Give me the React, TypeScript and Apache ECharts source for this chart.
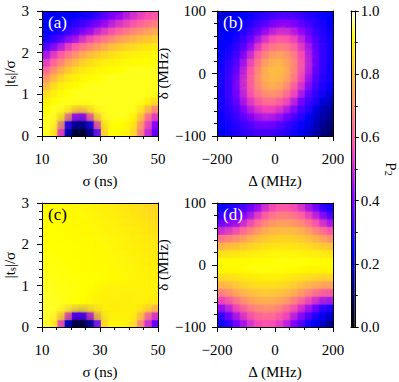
import React, { useEffect, useRef } from "react";
import * as echarts from "echarts";

// Axis ranges
const sigmaRange = [10, 50];
const tsRange = [0, 3];
const detuneRange = [-200, 200];
const deltaRange = [-100, 100];
const colorbarRange = [0, 1];

// Panel (a): rows from |ts|/sigma = 3 (top) to 0 (bottom), columns sigma 10 -> 50
const panelA = [
  [0.24, 0.24, 0.245, 0.25, 0.255, 0.26, 0.27, 0.3, 0.34, 0.38, 0.42, 0.46, 0.5, 0.53, 0.56, 0.58],
  [0.24, 0.25, 0.26, 0.27, 0.29, 0.31, 0.34, 0.38, 0.42, 0.46, 0.5, 0.53, 0.56, 0.59, 0.62, 0.65],
  [0.25, 0.26, 0.28, 0.3, 0.33, 0.37, 0.42, 0.47, 0.51, 0.55, 0.59, 0.63, 0.66, 0.69, 0.72, 0.74],
  [0.27, 0.29, 0.33, 0.38, 0.43, 0.49, 0.54, 0.58, 0.62, 0.66, 0.7, 0.73, 0.75, 0.77, 0.79, 0.81],
  [0.32, 0.38, 0.45, 0.52, 0.57, 0.62, 0.66, 0.7, 0.74, 0.77, 0.8, 0.82, 0.838, 0.852, 0.862, 0.873],
  [0.44, 0.517, 0.576, 0.63, 0.685, 0.732, 0.768, 0.796, 0.824, 0.848, 0.863, 0.876, 0.885, 0.892, 0.898, 0.904],
  [0.524, 0.592, 0.66, 0.724, 0.768, 0.812, 0.842, 0.861, 0.88, 0.89, 0.899, 0.906, 0.912, 0.917, 0.921, 0.925],
  [0.598, 0.678, 0.746, 0.798, 0.842, 0.868, 0.887, 0.897, 0.908, 0.916, 0.921, 0.926, 0.93, 0.93, 0.93, 0.93],
  [0.687, 0.762, 0.822, 0.862, 0.887, 0.902, 0.913, 0.92, 0.927, 0.93, 0.93, 0.93, 0.93, 0.93, 0.93, 0.93],
  [0.768, 0.836, 0.878, 0.898, 0.913, 0.923, 0.93, 0.93, 0.93, 0.93, 0.93, 0.93, 0.93, 0.93, 0.93, 0.93],
  [0.842, 0.884, 0.907, 0.921, 0.93, 0.93, 0.93, 0.93, 0.93, 0.93, 0.93, 0.93, 0.93, 0.93, 0.93, 0.93],
  [0.887, 0.912, 0.927, 0.93, 0.93, 0.93, 0.93, 0.93, 0.93, 0.93, 0.93, 0.93, 0.93, 0.93, 0.915, 0.87],
  [0.913, 0.93, 0.93, 0.925, 0.89, 0.88, 0.905, 0.93, 0.93, 0.93, 0.93, 0.93, 0.93, 0.9, 0.82, 0.71],
  [0.93, 0.93, 0.9, 0.72, 0.48, 0.44, 0.61, 0.85, 0.93, 0.93, 0.93, 0.93, 0.92, 0.83, 0.68, 0.545],
  [0.93, 0.93, 0.74, 0.3, 0.16, 0.14, 0.23, 0.56, 0.89, 0.925, 0.92, 0.915, 0.885, 0.75, 0.575, 0.42],
  [0.93, 0.9, 0.56, 0.18, 0.06, 0.045, 0.115, 0.34, 0.82, 0.92, 0.91, 0.9, 0.865, 0.69, 0.52, 0.37],
];

// Panel (b): rows from delta = 100 (top) to -100, columns Delta -200 -> 200
const panelB = [
  [0.205, 0.222, 0.237, 0.251, 0.266, 0.284, 0.3, 0.321, 0.333, 0.338, 0.333, 0.321, 0.3, 0.284, 0.266, 0.251],
  [0.217, 0.234, 0.25, 0.267, 0.289, 0.315, 0.342, 0.377, 0.404, 0.41, 0.396, 0.362, 0.332, 0.302, 0.279, 0.258],
  [0.229, 0.246, 0.262, 0.287, 0.318, 0.358, 0.417, 0.464, 0.49, 0.493, 0.47, 0.426, 0.371, 0.326, 0.292, 0.267],
  [0.24, 0.256, 0.28, 0.312, 0.358, 0.435, 0.505, 0.553, 0.578, 0.575, 0.543, 0.49, 0.42, 0.346, 0.303, 0.274],
  [0.248, 0.268, 0.297, 0.342, 0.422, 0.51, 0.583, 0.633, 0.655, 0.645, 0.606, 0.541, 0.459, 0.371, 0.315, 0.279],
  [0.256, 0.282, 0.321, 0.39, 0.486, 0.58, 0.662, 0.71, 0.725, 0.71, 0.662, 0.58, 0.486, 0.39, 0.321, 0.282],
  [0.263, 0.296, 0.34, 0.435, 0.538, 0.634, 0.715, 0.76, 0.772, 0.746, 0.691, 0.598, 0.498, 0.394, 0.321, 0.281],
  [0.272, 0.306, 0.365, 0.47, 0.578, 0.68, 0.76, 0.787, 0.789, 0.764, 0.697, 0.597, 0.493, 0.383, 0.319, 0.277],
  [0.277, 0.319, 0.383, 0.493, 0.597, 0.697, 0.764, 0.789, 0.787, 0.76, 0.68, 0.578, 0.47, 0.365, 0.306, 0.272],
  [0.281, 0.321, 0.394, 0.498, 0.598, 0.691, 0.746, 0.772, 0.76, 0.715, 0.634, 0.538, 0.435, 0.34, 0.296, 0.263],
  [0.282, 0.321, 0.39, 0.486, 0.58, 0.662, 0.71, 0.725, 0.71, 0.662, 0.58, 0.486, 0.39, 0.321, 0.282, 0.22],
  [0.279, 0.315, 0.371, 0.459, 0.541, 0.606, 0.645, 0.655, 0.633, 0.583, 0.51, 0.422, 0.342, 0.297, 0.22, 0.19],
  [0.274, 0.303, 0.346, 0.42, 0.49, 0.543, 0.575, 0.578, 0.553, 0.505, 0.435, 0.358, 0.312, 0.23, 0.19, 0.16],
  [0.267, 0.292, 0.326, 0.371, 0.426, 0.47, 0.493, 0.49, 0.464, 0.417, 0.358, 0.318, 0.25, 0.21, 0.17, 0.14],
  [0.258, 0.279, 0.302, 0.332, 0.362, 0.396, 0.41, 0.404, 0.377, 0.342, 0.315, 0.26, 0.23, 0.19, 0.15, 0.12],
  [0.23, 0.266, 0.284, 0.3, 0.321, 0.333, 0.338, 0.333, 0.321, 0.3, 0.27, 0.24, 0.21, 0.17, 0.13, 0.1],
];

// Panel (c): same axes as (a)
const panelC = [
  [0.915, 0.914, 0.912, 0.909, 0.906, 0.903, 0.899, 0.894, 0.889, 0.883, 0.877, 0.87, 0.863, 0.856, 0.848, 0.839],
  [0.917, 0.916, 0.914, 0.911, 0.909, 0.906, 0.902, 0.898, 0.893, 0.888, 0.883, 0.877, 0.871, 0.864, 0.857, 0.849],
  [0.919, 0.918, 0.916, 0.914, 0.911, 0.908, 0.905, 0.901, 0.897, 0.893, 0.888, 0.883, 0.877, 0.871, 0.864, 0.856],
  [0.92, 0.919, 0.917, 0.915, 0.913, 0.911, 0.908, 0.905, 0.901, 0.897, 0.893, 0.888, 0.883, 0.877, 0.871, 0.864],
  [0.922, 0.921, 0.919, 0.917, 0.915, 0.913, 0.91, 0.907, 0.904, 0.9, 0.896, 0.892, 0.887, 0.882, 0.877, 0.87],
  [0.924, 0.922, 0.921, 0.919, 0.917, 0.915, 0.912, 0.909, 0.906, 0.903, 0.899, 0.895, 0.891, 0.886, 0.881, 0.875],
  [0.925, 0.924, 0.922, 0.92, 0.918, 0.916, 0.914, 0.911, 0.908, 0.905, 0.902, 0.898, 0.894, 0.89, 0.885, 0.88],
  [0.927, 0.925, 0.924, 0.922, 0.92, 0.918, 0.916, 0.913, 0.91, 0.907, 0.904, 0.901, 0.897, 0.893, 0.889, 0.884],
  [0.928, 0.927, 0.925, 0.923, 0.921, 0.919, 0.917, 0.914, 0.912, 0.909, 0.906, 0.903, 0.9, 0.896, 0.892, 0.888],
  [0.93, 0.928, 0.927, 0.925, 0.923, 0.921, 0.918, 0.916, 0.913, 0.911, 0.908, 0.905, 0.902, 0.899, 0.895, 0.891],
  [0.931, 0.93, 0.928, 0.926, 0.924, 0.922, 0.918, 0.912, 0.906, 0.902, 0.9, 0.9, 0.9, 0.898, 0.896, 0.894],
  [0.933, 0.931, 0.929, 0.927, 0.925, 0.92, 0.912, 0.902, 0.895, 0.892, 0.892, 0.893, 0.895, 0.896, 0.895, 0.892],
  [0.934, 0.932, 0.93, 0.928, 0.924, 0.915, 0.905, 0.895, 0.89, 0.888, 0.888, 0.89, 0.892, 0.893, 0.89, 0.885],
  [0.935, 0.933, 0.93, 0.928, 0.92, 0.915, 0.91, 0.9, 0.89, 0.887, 0.887, 0.89, 0.892, 0.89, 0.885, 0.81],
  [0.935, 0.933, 0.88, 0.63, 0.37, 0.34, 0.5, 0.8, 0.9, 0.895, 0.895, 0.895, 0.9, 0.83, 0.67, 0.54],
  [0.935, 0.905, 0.6, 0.2, 0.07, 0.06, 0.13, 0.38, 0.84, 0.9, 0.9, 0.9, 0.87, 0.71, 0.53, 0.38],
];

// Panel (d): same axes as (b)
const panelD = [
  [0.25, 0.272, 0.292, 0.319, 0.366, 0.423, 0.493, 0.544, 0.573, 0.578, 0.559, 0.514, 0.453, 0.389, 0.29, 0.26],
  [0.307, 0.317, 0.339, 0.383, 0.437, 0.511, 0.577, 0.624, 0.648, 0.652, 0.636, 0.6, 0.539, 0.476, 0.403, 0.32],
  [0.374, 0.392, 0.42, 0.48, 0.541, 0.609, 0.66, 0.696, 0.715, 0.718, 0.705, 0.676, 0.632, 0.572, 0.505, 0.443],
  [0.488, 0.507, 0.543, 0.596, 0.648, 0.697, 0.737, 0.765, 0.775, 0.777, 0.77, 0.753, 0.715, 0.668, 0.617, 0.564],
  [0.629, 0.646, 0.672, 0.707, 0.745, 0.776, 0.798, 0.814, 0.822, 0.823, 0.818, 0.805, 0.785, 0.761, 0.722, 0.685],
  [0.759, 0.768, 0.781, 0.798, 0.817, 0.836, 0.851, 0.859, 0.864, 0.864, 0.861, 0.855, 0.842, 0.825, 0.805, 0.787],
  [0.85, 0.853, 0.859, 0.867, 0.875, 0.884, 0.891, 0.896, 0.898, 0.899, 0.897, 0.893, 0.887, 0.879, 0.87, 0.862],
  [0.91, 0.911, 0.913, 0.915, 0.918, 0.92, 0.922, 0.924, 0.924, 0.925, 0.924, 0.923, 0.921, 0.919, 0.916, 0.914],
  [0.914, 0.916, 0.919, 0.921, 0.923, 0.924, 0.925, 0.924, 0.924, 0.922, 0.92, 0.918, 0.915, 0.913, 0.911, 0.91],
  [0.862, 0.87, 0.879, 0.887, 0.893, 0.897, 0.899, 0.898, 0.896, 0.891, 0.884, 0.875, 0.867, 0.859, 0.853, 0.85],
  [0.787, 0.805, 0.825, 0.842, 0.855, 0.861, 0.864, 0.864, 0.859, 0.851, 0.836, 0.817, 0.798, 0.781, 0.768, 0.759],
  [0.685, 0.722, 0.761, 0.785, 0.805, 0.818, 0.823, 0.822, 0.814, 0.798, 0.776, 0.745, 0.707, 0.672, 0.646, 0.629],
  [0.564, 0.617, 0.668, 0.715, 0.753, 0.77, 0.777, 0.775, 0.765, 0.737, 0.697, 0.648, 0.596, 0.543, 0.507, 0.488],
  [0.443, 0.505, 0.572, 0.632, 0.676, 0.705, 0.718, 0.715, 0.696, 0.66, 0.609, 0.541, 0.48, 0.42, 0.33, 0.29],
  [0.31, 0.403, 0.476, 0.539, 0.6, 0.636, 0.652, 0.648, 0.624, 0.577, 0.511, 0.437, 0.383, 0.3, 0.26, 0.21],
  [0.26, 0.3, 0.389, 0.453, 0.514, 0.559, 0.578, 0.573, 0.544, 0.493, 0.423, 0.366, 0.28, 0.24, 0.2, 0.15],
];

const FONT = "Liberation Serif";

function gnuplot2(x: number): string {
  const c = (v: number) => Math.max(0, Math.min(1, v));
  const r = c(x / 0.32 - 0.78125);
  const g = c(2 * x - 0.84);
  let b: number;
  if (x < 0.25) b = 4 * x;
  else if (x < 0.42) b = 1;
  else if (x < 0.92) b = -2 * x + 1.84;
  else b = x / 0.08 - 11.5;
  b = c(b);
  return `rgb(${Math.round(r * 255)},${Math.round(g * 255)},${Math.round(b * 255)})`;
}

function cells(grid: number[][], xr: number[], yr: number[]) {
  const rows = grid.length;
  const cols = grid[0].length;
  const dx = (xr[1] - xr[0]) / cols;
  const dy = (yr[1] - yr[0]) / rows;
  const out: number[][] = [];
  grid.forEach((row, i) =>
    row.forEach((v, j) => {
      out.push([xr[0] + (j + 0.5) * dx, yr[1] - (i + 0.5) * dy, v, dx, dy]);
    })
  );
  return out;
}

const renderCell = (params: any, api: any) => {
  const x = api.value(0);
  const y = api.value(1);
  const dx = api.value(3);
  const dy = api.value(4);
  const a = api.coord([x - dx / 2, y + dy / 2]);
  const b = api.coord([x + dx / 2, y - dy / 2]);
  const fill = gnuplot2(api.value(2));
  return {
    type: "rect",
    shape: { x: a[0] + 1, y: a[1] + 1, width: b[0] - a[0] + 0.6, height: b[1] - a[1] + 0.6 },
    style: { fill, shadowBlur: 14, shadowColor: fill },
  };
};

const fmtMinus = (v: number) => (v < 0 ? "\u2212" + Math.abs(v) : String(v));

const black = "#000";

export default function App() {
  const ref = useRef<HTMLDivElement>(null);

  useEffect(() => {
    if (!ref.current) return;
    const chart = echarts.init(ref.current, undefined, { renderer: "svg" });

    const panels = [
      { left: 42, top: 11, width: 116, height: 125, xr: sigmaRange, yr: tsRange, xInt: 20, yInt: 1, xMinor: 4, yMinor: 5, data: panelA, label: "(a)", labelColor: "#fff", xName: "σ (ns)", yName: "|t{sub|s}|/σ", yNameGap: 24, yMargin: 13 },
      { left: 217, top: 11, width: 116, height: 125, xr: detuneRange, yr: deltaRange, xInt: 200, yInt: 100, xMinor: 4, yMinor: 5, data: panelB, label: "(b)", labelColor: "#fff", xName: "Δ (MHz)", yName: "δ (MHz)", yNameGap: 33, yMargin: 11 },
      { left: 42, top: 203, width: 116, height: 124, xr: sigmaRange, yr: tsRange, xInt: 20, yInt: 1, xMinor: 4, yMinor: 5, data: panelC, label: "(c)", labelColor: "#000", xName: "σ (ns)", yName: "|t{sub|s}|/σ", yNameGap: 24, yMargin: 13 },
      { left: 217, top: 203, width: 116, height: 124, xr: detuneRange, yr: deltaRange, xInt: 200, yInt: 100, xMinor: 4, yMinor: 5, data: panelD, label: "(d)", labelColor: "#fff", xName: "Δ (MHz)", yName: "δ (MHz)", yNameGap: 33, yMargin: 11 },
    ];

    const grids: any[] = [];
    const xAxes: any[] = [];
    const yAxes: any[] = [];
    const series: any[] = [];
    const graphics: any[] = [];

    const lineOnly = (extra: any) => ({
      type: "value",
      axisLine: { show: true, onZero: false, lineStyle: { color: black, width: 1 } },
      axisTick: { show: false },
      axisLabel: { show: false },
      splitLine: { show: false },
      z: 10,
      ...extra,
    });

    const textStyle = { fontFamily: FONT, fontSize: 15, color: black };
    const subRich = { sub: { fontFamily: FONT, fontSize: 10, lineHeight: 6, verticalAlign: "bottom", color: black } };

    panels.forEach((p, i) => {
      grids.push({ left: p.left, top: p.top, width: p.width, height: p.height, show: false });
      xAxes.push({
        gridIndex: i,
        type: "value",
        min: p.xr[0],
        max: p.xr[1],
        interval: p.xInt,
        position: "bottom",
        name: p.xName,
        nameLocation: "middle",
        nameGap: 37,
        nameTextStyle: { ...textStyle },
        axisLine: { show: true, onZero: false, lineStyle: { color: black, width: 1 } },
        axisTick: { show: true, inside: false, length: 5, lineStyle: { color: black, width: 1 } },
        minorTick: { show: true, splitNumber: p.xMinor, length: 3, lineStyle: { color: black, width: 1 } },
        axisLabel: { fontFamily: FONT, fontSize: 15, color: black, margin: 15, formatter: fmtMinus },
        splitLine: { show: false },
        minorSplitLine: { show: false },
        z: 10,
      });
      xAxes.push(lineOnly({ gridIndex: i, min: p.xr[0], max: p.xr[1], position: "top" }));
      yAxes.push({
        gridIndex: i,
        type: "value",
        min: p.yr[0],
        max: p.yr[1],
        interval: p.yInt,
        position: "left",
        name: p.yName,
        nameLocation: "middle",
        nameGap: p.yNameGap,
        nameRotate: 90,
        nameTextStyle: { ...textStyle, lineHeight: 16, rich: subRich },
        axisLine: { show: true, onZero: false, lineStyle: { color: black, width: 1 } },
        axisTick: { show: true, inside: false, length: 5, lineStyle: { color: black, width: 1 } },
        minorTick: { show: true, splitNumber: p.yMinor, length: 3, lineStyle: { color: black, width: 1 } },
        axisLabel: { fontFamily: FONT, fontSize: 15, color: black, margin: p.yMargin, formatter: fmtMinus },
        splitLine: { show: false },
        minorSplitLine: { show: false },
        z: 10,
      });
      yAxes.push(lineOnly({ gridIndex: i, min: p.yr[0], max: p.yr[1], position: "right" }));
      series.push({
        type: "custom",
        xAxisIndex: 2 * i,
        yAxisIndex: 2 * i,
        data: cells(p.data, p.xr, p.yr),
        encode: { x: 0, y: 1 },
        renderItem: renderCell,
        clip: true,
        silent: true,
        z: 1,
      });
      graphics.push({
        type: "text",
        left: p.left + 6,
        top: p.top + 3,
        z: 20,
        style: { text: p.label, fontFamily: FONT, fontSize: 17, fill: p.labelColor },
      });
    });

    // Colorbar
    const cbIndex = panels.length;
    grids.push({ left: 351, top: 11, width: 15, height: 316, show: false });
    xAxes.push(lineOnly({ gridIndex: cbIndex, min: 0, max: 1, position: "bottom" }));
    xAxes.push(lineOnly({ gridIndex: cbIndex, min: 0, max: 1, position: "top" }));
    yAxes.push({
      gridIndex: cbIndex,
      type: "value",
      min: colorbarRange[0],
      max: colorbarRange[1],
      interval: 0.2,
      position: "right",
      name: "P{sub|2}",
      nameLocation: "middle",
      nameGap: 16,
      nameRotate: -90,
      nameTextStyle: { ...textStyle, lineHeight: 16, rich: subRich },
      axisLine: { show: true, onZero: false, lineStyle: { color: black, width: 1 } },
      axisTick: { show: true, inside: false, length: 4, lineStyle: { color: black, width: 1 } },
      minorTick: { show: true, splitNumber: 2, length: 3, lineStyle: { color: black, width: 1 } },
      axisLabel: { fontFamily: FONT, fontSize: 15, color: black, margin: 6, formatter: (v: number) => v.toFixed(1) },
      splitLine: { show: false },
      minorSplitLine: { show: false },
      z: 10,
    });
    yAxes.push(lineOnly({ gridIndex: cbIndex, min: 0, max: 1, position: "left" }));

    const stops: any[] = [];
    for (let k = 0; k <= 50; k++) {
      const t = k / 50;
      stops.push({ offset: t, color: gnuplot2(t) });
    }
    series.push({
      type: "custom",
      xAxisIndex: 2 * cbIndex,
      yAxisIndex: 2 * cbIndex,
      data: [[0, colorbarRange[0], 1, colorbarRange[1]]],
      encode: { x: 0, y: 1 },
      silent: true,
      z: 1,
      renderItem: (params: any, api: any) => {
        const a = api.coord([api.value(0), api.value(3)]);
        const b = api.coord([api.value(2), api.value(1)]);
        return {
          type: "rect",
          shape: { x: a[0], y: a[1], width: b[0] - a[0], height: b[1] - a[1] },
          style: { fill: new echarts.graphic.LinearGradient(0, 1, 0, 0, stops) },
        };
      },
    });

    chart.setOption({
      animation: false,
      backgroundColor: "#fff",
      textStyle: { fontFamily: FONT },
      grid: grids,
      xAxis: xAxes,
      yAxis: yAxes,
      series,
      graphic: graphics,
    });

    return () => chart.dispose();
  }, []);

  return <div ref={ref} style={{ position: "fixed", left: 0, top: 0, width: 399, height: 382 }} />;
}
